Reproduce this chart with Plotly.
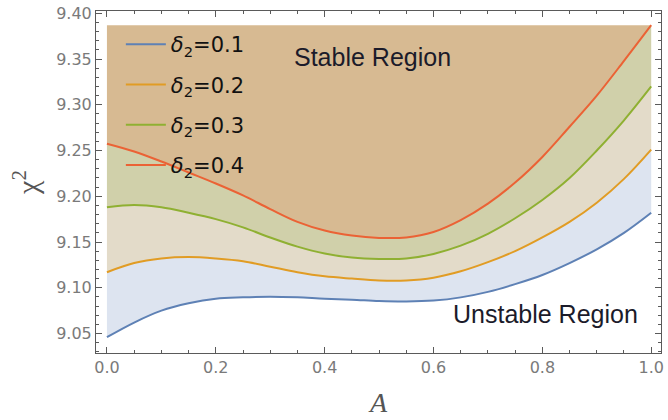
import plotly.graph_objects as go

A_vals = [0.0, 0.05, 0.1, 0.15, 0.2, 0.25, 0.3, 0.35, 0.4, 0.45, 0.5,
          0.55, 0.6, 0.65, 0.7, 0.75, 0.8, 0.85, 0.9, 0.95, 1.0]

chi_d01 = [9.046, 9.062, 9.075, 9.083, 9.088, 9.0895, 9.0902, 9.0895, 9.088, 9.087, 9.0855,
           9.085, 9.086, 9.0895, 9.0955, 9.104, 9.114, 9.127, 9.142, 9.160, 9.182]
chi_d02 = [9.117, 9.127, 9.132, 9.1335, 9.132, 9.129, 9.123, 9.117, 9.1125, 9.110, 9.108,
           9.108, 9.111, 9.118, 9.128, 9.140, 9.155, 9.172, 9.193, 9.219, 9.251]
chi_d03 = [9.188, 9.1905, 9.188, 9.182, 9.175, 9.166, 9.155, 9.145, 9.1375, 9.133, 9.1315,
           9.132, 9.137, 9.146, 9.159, 9.176, 9.196, 9.220, 9.250, 9.283, 9.320]
chi_d04 = [9.2575, 9.249, 9.238, 9.226, 9.214, 9.201, 9.186, 9.172, 9.1625, 9.157, 9.1545,
           9.155, 9.161, 9.174, 9.192, 9.215, 9.243, 9.276, 9.310, 9.348, 9.387]

series_names = ["<i>δ</i><sub>2</sub>=0.1", "<i>δ</i><sub>2</sub>=0.2",
                "<i>δ</i><sub>2</sub>=0.3", "<i>δ</i><sub>2</sub>=0.4"]
line_colors = ["#5E81B5", "#E19C24", "#8FB032", "#EB6235"]
band_colors = ["rgb(221,228,240)", "rgb(227,219,201)", "rgb(208,208,170)", "rgb(215,186,146)"]

series = [chi_d01, chi_d02, chi_d03, chi_d04]
top_level = [max(chi_d04)] * len(A_vals)

fig = go.Figure()

# filled bands
fig.add_trace(go.Scatter(x=A_vals, y=chi_d01, mode="lines", line=dict(width=0, shape="spline"),
                         showlegend=False, hoverinfo="skip"))
bounds = [chi_d02, chi_d03, chi_d04, top_level]
for upper, col in zip(bounds, band_colors):
    fig.add_trace(go.Scatter(x=A_vals, y=upper, mode="lines", line=dict(width=0, shape="spline"),
                             fill="tonexty", fillcolor=col, showlegend=False,
                             hoverinfo="skip"))

# curves
for i, (ys, name, col) in enumerate(zip(series, series_names, line_colors)):
    fig.add_trace(go.Scatter(x=A_vals, y=ys, mode="lines", name=name,
                             line=dict(color=col, width=2, shape="spline"),
                             legendgroup=f"g{i}"))

fig.add_annotation(x=0.488, y=9.352, xref="x", yref="y", text="Stable Region",
                   showarrow=False, font=dict(family="Liberation Sans", size=25, color="#1b1b2a"))
fig.add_annotation(x=0.98, y=9.0715, xref="x", yref="y", text="Unstable Region",
                   showarrow=False, xanchor="right",
                   font=dict(family="Liberation Sans", size=25, color="#1b1b2a"))

axis_common = dict(
    showline=True, linecolor="#5a5a5a", linewidth=1, mirror="allticks",
    ticks="inside", ticklen=6, tickcolor="#5a5a5a", tickwidth=1,
    showgrid=False, zeroline=False, ticklabeloverflow="allow",
    tickfont=dict(family="DejaVu Sans", size=16, color="#7a7a7a"),
)

fig.update_xaxes(range=[-0.0201, 1.018], tickmode="array",
                 tickvals=[0, 0.2, 0.4, 0.6, 0.8, 1.0],
                 ticktext=["0.0", "0.2", "0.4", "0.6", "0.8", "1.0"],
                 minor=dict(dtick=0.05, tick0=0, ticklen=3, ticks="inside", tickcolor="#5a5a5a"),
                 title=dict(text="<i>A</i>", font=dict(family="Liberation Serif", size=28, color="#555555"),
                            standoff=16),
                 **axis_common)
fig.update_yaxes(range=[9.0287, 9.4025], tickmode="array",
                 tickvals=[9.05, 9.10, 9.15, 9.20, 9.25, 9.30, 9.35, 9.40],
                 ticktext=["9.05", "9.10", "9.15", "9.20", "9.25", "9.30", "9.35", "9.40"],
                 minor=dict(dtick=0.01, tick0=9.0, ticklen=3, ticks="inside", tickcolor="#5a5a5a"),
                 title=dict(text="χ<sup>2</sup>", font=dict(family="Liberation Serif", size=30, color="#555555"),
                            standoff=8),
                 **axis_common)

fig.update_layout(
    width=668, height=420,
    margin=dict(l=96, r=4, t=5, b=67),
    plot_bgcolor="white", paper_bgcolor="white",
    legend=dict(x=0.044, y=0.962, xanchor="left", yanchor="top",
                bgcolor="rgba(0,0,0,0)", borderwidth=0,
                font=dict(family="DejaVu Sans", size=21, color="#111111"),
                traceorder="grouped", tracegroupgap=10, itemwidth=40),
)

fig.write_html("out.html")
